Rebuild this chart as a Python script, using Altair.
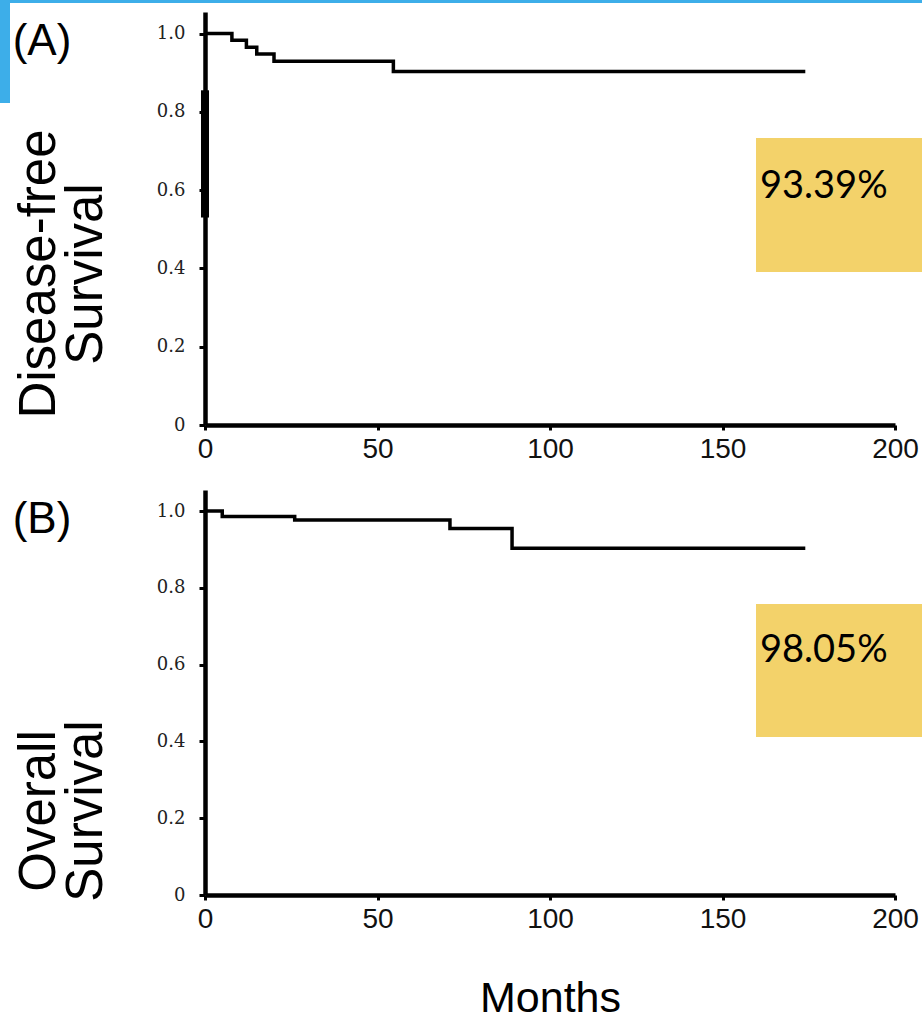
import altair as alt
import pandas as pd

# ---- data ----
months_A = [0, 7.8, 12, 15, 20, 54.6, 174]
surv_A = [1.0, 0.983, 0.965, 0.948, 0.929, 0.903, 0.903]
censor_A_time = [0]
censor_A_low = [0.53]
censor_A_high = [0.855]

months_B = [0, 5, 26, 71, 89, 174]
surv_B = [1.0, 0.986, 0.977, 0.955, 0.903, 0.903]

pct_A = "93.39%"
pct_B = "98.05%"
x_ticks = [0, 50, 100, 150, 200]
y_ticks = [0, 0.2, 0.4, 0.6, 0.8, 1.0]

SANS = "'Liberation Sans', Arial, sans-serif"
SERIF = "'DejaVu Serif', 'Liberation Serif', serif"
YELLOW = "#F3D26A"
BLUE = "#3DAEE9"

one = pd.DataFrame({"k": [0]})


def make_panel(months, surv, height, letter, title_lines, title_y, pct, pct_y,
               box_y, xtitle, censor=None, border=False):
    df = pd.DataFrame({"Months": months, "Survival": surv})
    x_axis = alt.Axis(
        values=x_ticks, title=xtitle if xtitle else None, grid=False,
        domainWidth=4.5, domainColor="black", tickColor="black", tickWidth=3,
        tickSize=5, labelFont=SANS, labelFontSize=28, labelColor="#111",
        labelPadding=5, labelFlush=False, labelOverlap=False,
        titleFont=SANS, titleFontSize=43, titleFontWeight="normal",
        titleColor="black", titlePadding=44,
    )
    y_axis = alt.Axis(
        values=y_ticks, title=None, grid=False,
        labelExpr="datum.value == 0 ? '0' : format(datum.value, '.1f')",
        domainWidth=4.5, domainColor="black", tickColor="black", tickWidth=3,
        tickSize=6, labelFont=SERIF, labelFontSize=18, labelColor="#222",
        labelPadding=14,
    )
    x = alt.X("Months:Q", scale=alt.Scale(domain=[0, 200], nice=False), axis=x_axis)
    y = alt.Y("Survival:Q", scale=alt.Scale(domain=[0, 1.055], nice=False), axis=y_axis)

    layers = []
    if border:
        layers.append(alt.Chart(one).mark_rect(color=BLUE).encode(
            x=alt.value(-205), x2=alt.value(-195), y=alt.value(-12), y2=alt.value(91)))
        layers.append(alt.Chart(one).mark_rect(color=BLUE).encode(
            x=alt.value(-205), x2=alt.value(717), y=alt.value(-12), y2=alt.value(-9)))

    layers.append(alt.Chart(df).mark_line(
        interpolate="step-after", color="black", strokeWidth=3.5).encode(x=x, y=y))

    if censor is not None:
        cdf = pd.DataFrame({"Months": censor[0], "Survival": censor[1], "S2": censor[2]})
        layers.append(alt.Chart(cdf).mark_rule(color="black", strokeWidth=8).encode(
            x=x, y=y, y2="S2:Q"))

    layers.append(alt.Chart(one).mark_rect(color=YELLOW).encode(
        x=alt.value(551), x2=alt.value(717), y=alt.value(box_y[0]), y2=alt.value(box_y[1])))
    layers.append(alt.Chart(one).mark_text(
        align="left", baseline="alphabetic", font="Lato", fontSize=38, color="black").encode(
        x=alt.value(555), y=alt.value(pct_y), text=alt.value(pct)))

    layers.append(alt.Chart(one).mark_text(
        align="center", baseline="middle", font=SANS, fontSize=44, color="black").encode(
        x=alt.value(-163), y=alt.value(30), text=alt.value(letter)))

    layers.append(alt.Chart(one).mark_text(
        angle=270, align="center", baseline="middle", font=SANS, fontSize=51, color="black").encode(
        x=alt.value(-165), y=alt.value(title_y), text=alt.value(title_lines[0])))
    layers.append(alt.Chart(one).mark_text(
        angle=270, align="center", baseline="middle", font=SANS, fontSize=51, color="black").encode(
        x=alt.value(-118), y=alt.value(title_y), text=alt.value(title_lines[1])))

    return alt.layer(*layers).properties(width=690, height=height)


panel_A = make_panel(months_A, surv_A, 413, "(A)", ["Disease-free", "Survival"], 262,
                     pct_A, 186, (126, 260), None,
                     censor=(censor_A_time, censor_A_low, censor_A_high), border=True)
panel_B = make_panel(months_B, surv_B, 405, "(B)", ["Overall", "Survival"], 321,
                     pct_B, 172, (114, 247), "Months")

chart = alt.vconcat(panel_A, panel_B, spacing=65, bounds="flush").properties(
    padding={"left": 0, "top": 0, "right": 0, "bottom": 0}, background="white"
).configure_view(stroke=None)

chart.save("out.html", embed_options={"renderer": "svg", "actions": False})
